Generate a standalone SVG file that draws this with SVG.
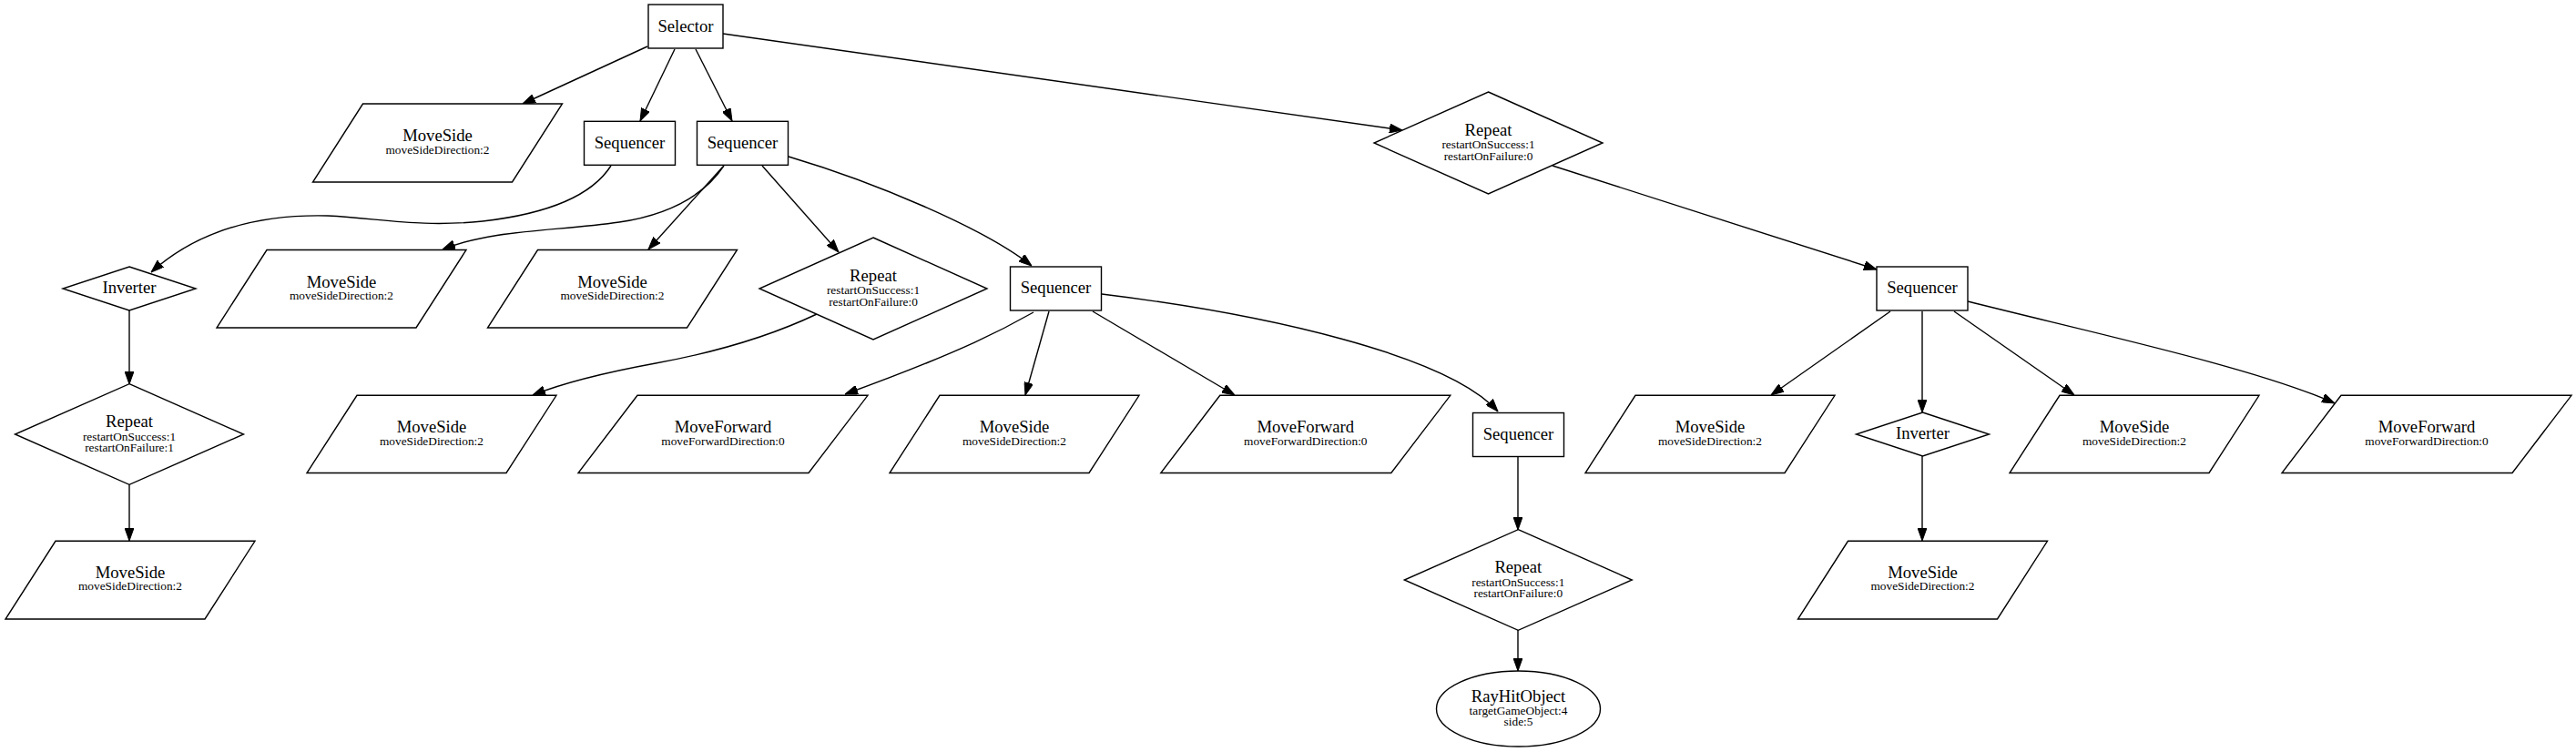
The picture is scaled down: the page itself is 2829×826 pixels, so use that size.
<svg xmlns="http://www.w3.org/2000/svg" width="2829" height="826" viewBox="0 0 2829 826">
<style>
.shape{fill:#ffffff;stroke:#000000;stroke-width:1.4}
.edge{fill:none;stroke:#000000;stroke-width:1.4;marker-end:url(#arrow)}
.t{font-family:"Liberation Serif","Times New Roman",serif;font-size:18.67px;text-anchor:middle;fill:#000000}
.s{font-family:"Liberation Serif","Times New Roman",serif;font-size:13.33px;text-anchor:middle;fill:#000000}
</style>
<defs>
<marker id="arrow" markerUnits="userSpaceOnUse" markerWidth="14" markerHeight="10" viewBox="0 0 14 10" refX="14" refY="5" orient="auto">
<path d="M0,0 L14,5 L0,10 z" fill="#000000" stroke="#000000" stroke-width="1"/>
</marker>
</defs>
<rect width="2829" height="826" fill="#ffffff"/>
<g id="edges">
<path class="edge" d="M711,51 L574,114"/>
<path class="edge" d="M741,54 L703,133"/>
<path class="edge" d="M764,54 L804,133"/>
<path class="edge" d="M794,37 L1540,143"/>
<path class="edge" d="M671,182 C650,215 600,235 530,243 C460,250 420,240 360,237 C280,235 215,255 166,299"/>
<path class="edge" d="M795,182 C775,212 740,235 680,244 C610,254 540,252 486,274"/>
<path class="edge" d="M794,183 L712,274"/>
<path class="edge" d="M837,182 L921,277"/>
<path class="edge" d="M866,172 C960,200 1080,250 1133,292"/>
<path class="edge" d="M897,345 C840,372 780,388 720,399 C660,410 620,420 585,434"/>
<path class="edge" d="M1705,182 L2061,296"/>
<path class="edge" d="M1135,343 C1105,360 1060,385 928,433"/>
<path class="edge" d="M1152,342 L1126,434"/>
<path class="edge" d="M1200,342 L1356,434"/>
<path class="edge" d="M1210,323 C1390,345 1590,390 1645,452"/>
<path class="edge" d="M1667,502 L1667,582"/>
<path class="edge" d="M1667,692 L1667,737"/>
<path class="edge" d="M2076,342 L1945,434"/>
<path class="edge" d="M2111,342 L2111,453"/>
<path class="edge" d="M2146,342 L2278,434"/>
<path class="edge" d="M2161,331 C2300,366 2480,405 2564,443"/>
<path class="edge" d="M2111,501 L2111,594"/>
<path class="edge" d="M142,341 L142,422"/>
<path class="edge" d="M142,532 L142,594"/>
</g>
<g id="selector">
<rect class="shape" x="712" y="5" width="82" height="48"/>
<text class="t" x="753" y="34.5">Selector</text>
</g>
<g id="moveside1">
<polygon class="shape" points="398.5,114 617.5,114 562.5,200 343.5,200"/>
<text class="t" x="480.5" y="155.3">MoveSide</text>
<text class="s" x="480.5" y="168.7">moveSideDirection:2</text>
</g>
<g id="sequencer1">
<rect class="shape" x="641.5" y="133.3" width="100" height="48"/>
<text class="t" x="691.5" y="162.6">Sequencer</text>
</g>
<g id="sequencer2">
<rect class="shape" x="765.5" y="133.3" width="100" height="48"/>
<text class="t" x="815.5" y="162.6">Sequencer</text>
</g>
<g id="repeat1">
<polygon class="shape" points="1634.5,101 1760,157 1634.5,213 1509,157"/>
<text class="t" x="1634.5" y="148.5">Repeat</text>
<text class="s" x="1634.5" y="163.3">restartOnSuccess:1</text>
<text class="s" x="1634.5" y="175.5">restartOnFailure:0</text>
</g>
<g id="inverter1">
<polygon class="shape" points="142,293 215,317 142,341 69,317"/>
<text class="t" x="142" y="322.3">Inverter</text>
</g>
<g id="moveside2">
<polygon class="shape" points="293,274.5 512,274.5 457,360 238,360"/>
<text class="t" x="375" y="315.5">MoveSide</text>
<text class="s" x="375" y="328.8">moveSideDirection:2</text>
</g>
<g id="moveside3">
<polygon class="shape" points="590.5,274.5 809.5,274.5 754.5,360 535.5,360"/>
<text class="t" x="672.5" y="315.5">MoveSide</text>
<text class="s" x="672.5" y="328.8">moveSideDirection:2</text>
</g>
<g id="repeat2">
<polygon class="shape" points="959,261 1084,317 959,373 834,317"/>
<text class="t" x="959" y="308.5">Repeat</text>
<text class="s" x="959" y="323.3">restartOnSuccess:1</text>
<text class="s" x="959" y="335.5">restartOnFailure:0</text>
</g>
<g id="sequencer3">
<rect class="shape" x="1109.5" y="293" width="100" height="48"/>
<text class="t" x="1159.5" y="322.3">Sequencer</text>
</g>
<g id="sequencer4">
<rect class="shape" x="2061" y="293" width="100" height="48"/>
<text class="t" x="2111" y="322.3">Sequencer</text>
</g>
<g id="repeat3">
<polygon class="shape" points="142,421.7 267.5,477 142,532.3 16.5,477"/>
<text class="t" x="142" y="469">Repeat</text>
<text class="s" x="142" y="483.5">restartOnSuccess:1</text>
<text class="s" x="142" y="495.7">restartOnFailure:1</text>
</g>
<g id="moveside4">
<polygon class="shape" points="392,434.3 611,434.3 556,519.5 337,519.5"/>
<text class="t" x="474" y="475.2">MoveSide</text>
<text class="s" x="474" y="488.5">moveSideDirection:2</text>
</g>
<g id="moveforward1">
<polygon class="shape" points="700,434.3 953,434.3 888,519.5 635,519.5"/>
<text class="t" x="794" y="475.2">MoveForward</text>
<text class="s" x="794" y="488.5">moveForwardDirection:0</text>
</g>
<g id="moveside5">
<polygon class="shape" points="1032,434.3 1251,434.3 1196,519.5 977,519.5"/>
<text class="t" x="1114" y="475.2">MoveSide</text>
<text class="s" x="1114" y="488.5">moveSideDirection:2</text>
</g>
<g id="moveforward2">
<polygon class="shape" points="1339.8,434.3 1592.8,434.3 1527.8,519.5 1274.8,519.5"/>
<text class="t" x="1433.8" y="475.2">MoveForward</text>
<text class="s" x="1433.8" y="488.5">moveForwardDirection:0</text>
</g>
<g id="sequencer5">
<rect class="shape" x="1617.5" y="453.5" width="100" height="48"/>
<text class="t" x="1667.5" y="482.8">Sequencer</text>
</g>
<g id="moveside6">
<polygon class="shape" points="1796,434.3 2015,434.3 1960,519.5 1741,519.5"/>
<text class="t" x="1878" y="475.2">MoveSide</text>
<text class="s" x="1878" y="488.5">moveSideDirection:2</text>
</g>
<g id="inverter2">
<polygon class="shape" points="2111.5,453 2184.5,477 2111.5,501 2038.5,477"/>
<text class="t" x="2111.5" y="482.3">Inverter</text>
</g>
<g id="moveside7">
<polygon class="shape" points="2262,434.3 2481,434.3 2426,519.5 2207,519.5"/>
<text class="t" x="2344" y="475.2">MoveSide</text>
<text class="s" x="2344" y="488.5">moveSideDirection:2</text>
</g>
<g id="moveforward3">
<polygon class="shape" points="2571,434.3 2824,434.3 2759,519.5 2506,519.5"/>
<text class="t" x="2665" y="475.2">MoveForward</text>
<text class="s" x="2665" y="488.5">moveForwardDirection:0</text>
</g>
<g id="moveside8">
<polygon class="shape" points="61,594.3 280,594.3 225,680 6,680"/>
<text class="t" x="143" y="634.8">MoveSide</text>
<text class="s" x="143" y="648.3">moveSideDirection:2</text>
</g>
<g id="repeat4">
<polygon class="shape" points="1667.3,581.7 1792.3,637 1667.3,692.3 1542.3,637"/>
<text class="t" x="1667.3" y="629">Repeat</text>
<text class="s" x="1667.3" y="643.5">restartOnSuccess:1</text>
<text class="s" x="1667.3" y="655.7">restartOnFailure:0</text>
</g>
<g id="moveside9">
<polygon class="shape" points="2029.5,594.3 2248.5,594.3 2193.5,680 1974.5,680"/>
<text class="t" x="2111.5" y="634.8">MoveSide</text>
<text class="s" x="2111.5" y="648.3">moveSideDirection:2</text>
</g>
<g id="rayhitobject">
<ellipse class="shape" cx="1667.5" cy="778.5" rx="90" ry="41.5"/>
<text class="t" x="1667.5" y="771">RayHitObject</text>
<text class="s" x="1667.5" y="784.5">targetGameObject:4</text>
<text class="s" x="1667.5" y="797">side:5</text>
</g>
</svg>
